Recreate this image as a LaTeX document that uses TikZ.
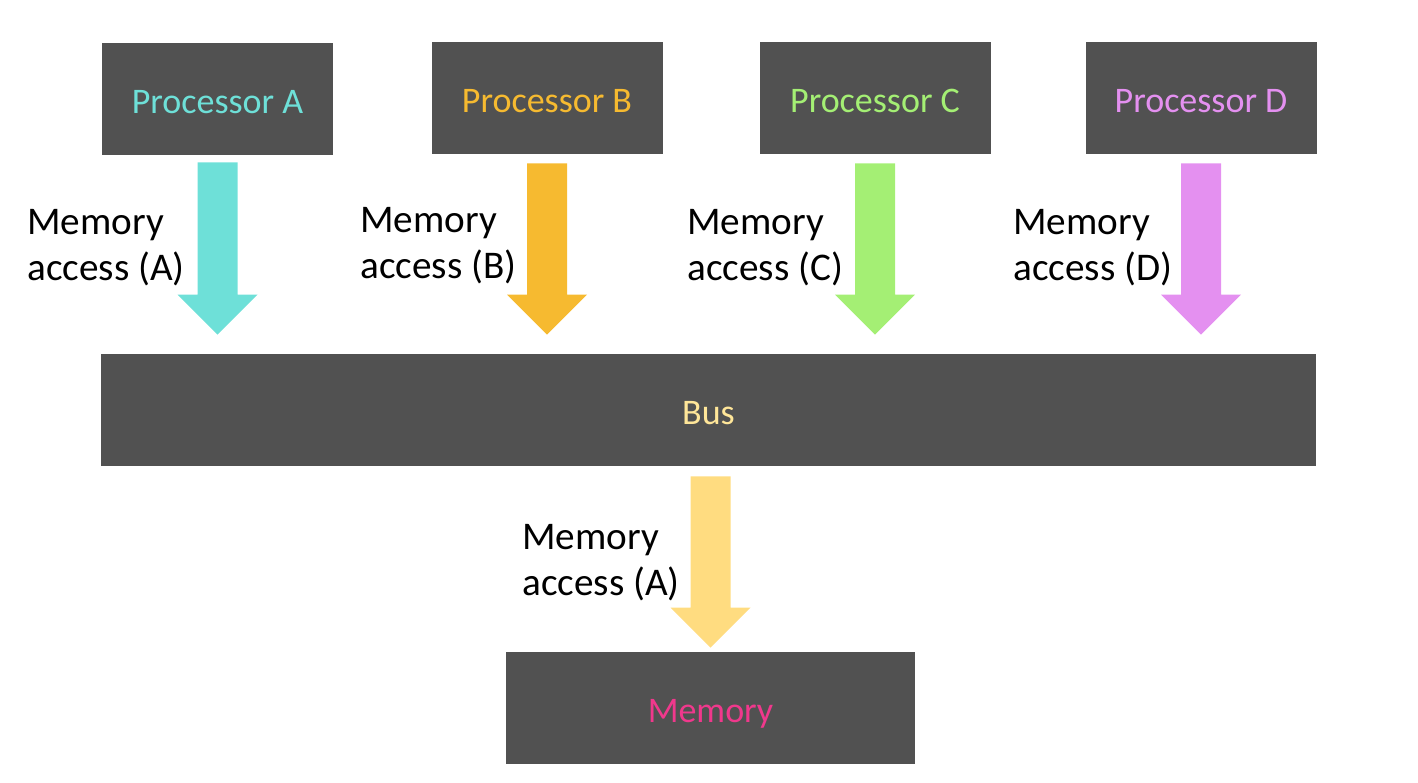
\documentclass[tikz,border=0pt]{standalone}
\usepackage{fontspec}
\setmainfont{Carlito}
\usetikzlibrary{calc}
\definecolor{boxgray}{HTML}{515151}
\definecolor{cA}{HTML}{6EE0D8}
\definecolor{cB}{HTML}{F6BA30}
\definecolor{cC}{HTML}{A4EF74}
\definecolor{cD}{HTML}{E490F0}
\definecolor{cM}{HTML}{FFDC80}
\definecolor{cMem}{HTML}{F0388C}
\definecolor{cBus}{HTML}{FFE699}
\newcommand\blockarrow[3]{\fill[#1] ($(#2)+(-20,0)$) -- ($(#2)+(20,0)$) -- ($(#3)+(20,-40)$) -- ($(#3)+(40,-40)$) -- (#3) -- ($(#3)+(-40,-40)$) -- ($(#3)+(-20,-40)$) -- cycle;}
\tikzset{
  box/.style={fill=boxgray, draw=none, inner sep=0pt, minimum height=56pt, text height=14pt, text depth=0pt, font=\fontsize{18}{21}\selectfont},
  proc/.style={box, minimum width=115.5pt},
  lbl/.style={inner sep=0pt, anchor=west, align=left, font=\fontsize{19.6}{23}\selectfont, text=black}
}
\begin{document}
\begin{tikzpicture}[x=0.5pt,y=-0.5pt]
\useasboundingbox (0,0) rectangle (1418,782);
\node[proc, text=cA] (pa) at (217.5,99) {Processor A};
\node[proc, text=cB] (pb) at (547,98) {Processor B};
\node[proc, text=cC] (pc) at (875,98) {Processor C};
\node[proc, text=cD] (pd) at (1201,98) {Processor D};
\node[box, minimum width=607.5pt, text=cBus] (bus) at (708.5,410) {Bus};
\node[box, minimum width=204.5pt, text=cMem] (mem) at (710.5,708) {Memory};
\coordinate (sa) at ($(pa.south)+(0,7)$);
\coordinate (ta) at ($(pa.south |- bus.north)+(0,-19)$);
\coordinate (sb) at ($(pb.south)+(0,9)$);
\coordinate (tb) at ($(pb.south |- bus.north)+(0,-19)$);
\coordinate (sc) at ($(pc.south)+(0,9)$);
\coordinate (tc) at ($(pc.south |- bus.north)+(0,-19)$);
\coordinate (sd) at ($(pd.south)+(0,9)$);
\coordinate (td) at ($(pd.south |- bus.north)+(0,-19)$);
\coordinate (sm) at ($(bus.south -| mem.north)+(0,10)$);
\coordinate (tm) at ($(mem.north)+(0,-4)$);
\blockarrow{cA}{sa}{ta}
\blockarrow{cB}{sb}{tb}
\blockarrow{cC}{sc}{tc}
\blockarrow{cD}{sd}{td}
\blockarrow{cM}{sm}{tm}
\node[lbl] (la) at (27,248) {Memory\\access (A)};
\node[lbl] (lb) at (360,246) {Memory\\access (B)};
\node[lbl] (lc) at (687,248) {Memory\\access (C)};
\node[lbl] (ld) at (1013,248) {Memory\\access (D)};
\node[lbl] (lm) at (522,563) {Memory\\access (A)};
\end{tikzpicture}
\end{document}
